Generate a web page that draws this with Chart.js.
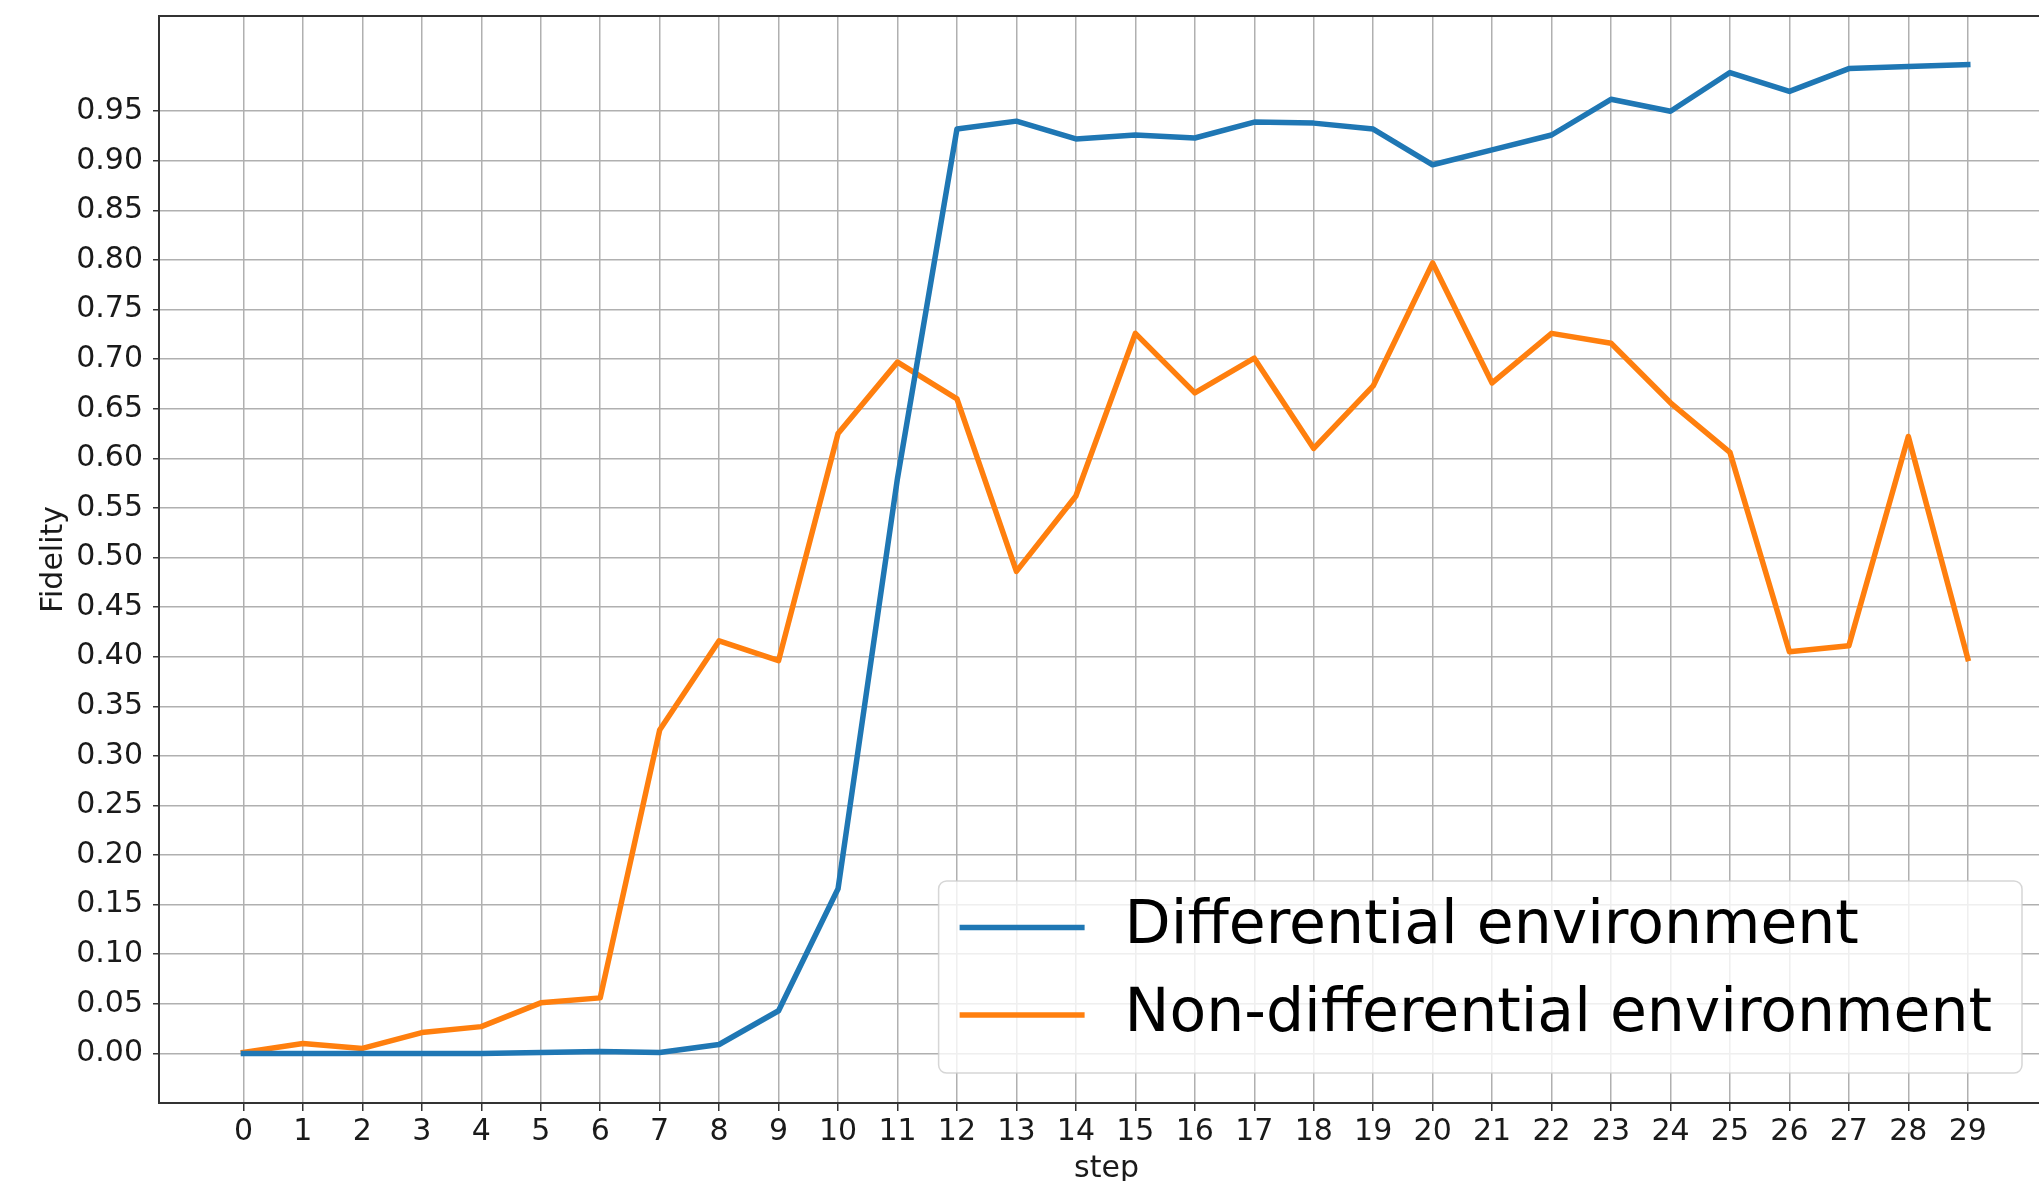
<!DOCTYPE html>
<html>
<head>
<meta charset="utf-8">
<script src="https://cdn.jsdelivr.net/npm/chart.js@4.4.0/dist/chart.umd.min.js"></script>
<style>
  html, body { margin: 0; padding: 0; background: #fff; overflow: hidden; }
  #chart { display: block; }
</style>
</head>
<body>
<canvas id="chart" width="2100" height="1181"></canvas>
<script>
let steps = [0, 1, 2, 3, 4, 5, 6, 7, 8, 9, 10, 11, 12, 13, 14, 15, 16, 17, 18, 19, 20, 21, 22, 23, 24, 25, 26, 27, 28, 29]

let differential = [0.000, 0.000, 0.000, 0.000, 0.000, 0.001, 0.002, 0.001, 0.009, 0.043,
  0.166, 0.580, 0.932, 0.940, 0.922, 0.926, 0.923, 0.939, 0.938, 0.932,
  0.896, 0.911, 0.926, 0.962, 0.950, 0.989, 0.970, 0.993, 0.995, 0.997]

let nonDifferential = [0.001, 0.010, 0.005, 0.021, 0.027, 0.051, 0.056, 0.326, 0.416, 0.396,
  0.625, 0.697, 0.660, 0.486, 0.562, 0.726, 0.666, 0.701, 0.610, 0.673,
  0.797, 0.676, 0.726, 0.716, 0.656, 0.606, 0.405, 0.411, 0.622, 0.398]

let yTicks = [0.00, 0.05, 0.10, 0.15, 0.20, 0.25, 0.30, 0.35, 0.40, 0.45,
  0.50, 0.55, 0.60, 0.65, 0.70, 0.75, 0.80, 0.85, 0.90, 0.95]

let seriesNames = ['Differential environment', 'Non-differential environment']

Chart.defaults.font.family = '"DejaVu Sans", sans-serif'

const textColor = '#1a1a1a'
const gridColor = '#b0b0b0'
const spineColor = '#333333'

// top + right spine (matplotlib draws a full box)
const frame = {
  id: 'frame',
  afterDatasetsDraw(c) {
    const { ctx, chartArea: a } = c
    ctx.save()
    ctx.strokeStyle = spineColor
    ctx.lineWidth = 2
    ctx.beginPath()
    ctx.moveTo(a.left, a.top)
    ctx.lineTo(a.right, a.top)
    ctx.lineTo(a.right, a.bottom)
    ctx.stroke()
    ctx.restore()
  }
}

// matplotlib-like legend box in the lower right corner
const boxLegend = {
  id: 'boxLegend',
  afterDraw(c) {
    const { ctx, chartArea: a } = c
    const sets = c.data.datasets
    ctx.save()
    ctx.font = '60px "DejaVu Sans"'
    let tw = Math.max(...sets.map(d => ctx.measureText(d.label).width))
    let w = 21 + 125 + 40 + tw + 30
    let h = 192
    let x = a.right - 32 - w
    let y = a.bottom - 30 - h
    ctx.beginPath()
    ctx.roundRect(x, y, w, h, 8)
    ctx.fillStyle = 'rgba(255,255,255,0.8)'
    ctx.fill()
    ctx.strokeStyle = 'rgba(204,204,204,0.8)'
    ctx.lineWidth = 1.5
    ctx.stroke()
    sets.forEach((d, i) => {
      let ly = y + 46.5 + i * 87.5
      ctx.strokeStyle = d.borderColor
      ctx.lineWidth = d.borderWidth
      ctx.lineCap = 'butt'
      ctx.beginPath()
      ctx.moveTo(x + 21, ly)
      ctx.lineTo(x + 146, ly)
      ctx.stroke()
      ctx.fillStyle = '#000'
      ctx.textBaseline = 'middle'
      ctx.textAlign = 'left'
      ctx.fillText(d.label, x + 186, ly)
    })
    ctx.restore()
  }
}

const data = {
  datasets: [{
    label: seriesNames[0],
    data: steps.map((s, i) => ({ x: s, y: differential[i] })),
    borderColor: '#1f77b4',
    backgroundColor: '#1f77b4',
    borderWidth: 5.5,
  }, {
    label: seriesNames[1],
    data: steps.map((s, i) => ({ x: s, y: nonDifferential[i] })),
    borderColor: '#ff7f0e',
    backgroundColor: '#ff7f0e',
    borderWidth: 5.5,
  }]
}

const config = {
  type: 'line',
  data: data,
  plugins: [frame, boxLegend],
  options: {
    responsive: false,
    animation: false,
    devicePixelRatio: 1,
    layout: { padding: { left: 0, top: 16, right: 46, bottom: 0 } },
    elements: {
      point: { radius: 0, hoverRadius: 0 },
      line: { tension: 0, borderJoinStyle: 'round', borderCapStyle: 'square' }
    },
    plugins: {
      legend: { display: false },
      tooltip: { enabled: false }
    },
    scales: {
      x: {
        type: 'linear',
        min: -1.42,
        max: 30.45,
        afterBuildTicks: s => { s.ticks = steps.map(v => ({ value: v })) },
        afterFit: s => {
          s.height = 78
          s.paddingLeft = 0
          s.paddingRight = 0
        },
        ticks: {
          callback: v => String(v),
          font: { size: 30 },
          color: textColor,
          padding: 3,
          maxRotation: 0,
          autoSkip: false
        },
        grid: {
          color: gridColor,
          lineWidth: 1.5,
          tickLength: 8,
          tickColor: spineColor,
          tickWidth: 1.5
        },
        border: { color: spineColor, width: 2 },
        title: {
          display: true,
          text: 'step',
          font: { size: 30, lineHeight: 0.8 },
          color: textColor,
          padding: 0
        }
      },
      y: {
        min: -0.05,
        max: 1.046,
        afterBuildTicks: s => { s.ticks = yTicks.map(v => ({ value: v })) },
        afterFit: s => {
          s.width = 159
          s.paddingTop = 0
          s.paddingBottom = 0
        },
        ticks: {
          callback: v => v.toFixed(2),
          font: { size: 30 },
          color: textColor,
          padding: 10
        },
        grid: {
          color: gridColor,
          lineWidth: 1.5,
          tickLength: 6,
          tickColor: spineColor,
          tickWidth: 1.5
        },
        border: { color: spineColor, width: 2 },
        title: {
          display: true,
          text: 'Fidelity',
          font: { size: 30, lineHeight: 1 },
          color: textColor,
          padding: { top: 39, bottom: 0 }
        }
      }
    }
  }
}

const chart = new Chart(document.getElementById('chart'), config)
</script>
</body>
</html>
